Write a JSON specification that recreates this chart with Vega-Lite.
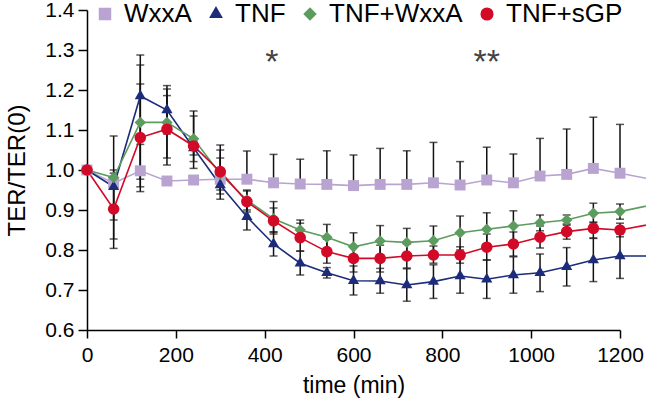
{
  "$schema": "https://vega.github.io/schema/vega-lite/v6.json",
  "width": 533,
  "height": 320,
  "autosize": {"type": "none"},
  "padding": {"left": 87, "top": 10, "right": 26, "bottom": 81},
  "background": "white",
  "config": {
    "view": {"stroke": null},
    "font": "Liberation Sans",
    "axis": {"labelFont": "Liberation Sans", "titleFont": "Liberation Sans", "labelColor": "black", "titleColor": "black", "domainColor": "black", "tickColor": "black", "domainWidth": 1.5, "tickWidth": 1.5, "grid": false, "titleFontWeight": "normal", "labelOverlap": false},
    "legend": {"labelFontSize": 26, "labelFont": "Liberation Sans"}
  },
  "datasets": {
    "ter": [
      {"s": "WxxA", "t": 0, "v": 1.0},
      {"s": "WxxA", "t": 60, "v": 0.967},
      {"s": "WxxA", "t": 120, "v": 0.998, "lo": 0.958, "hi": 1.064},
      {"s": "WxxA", "t": 180, "v": 0.9725},
      {"s": "WxxA", "t": 240, "v": 0.975},
      {"s": "WxxA", "t": 300, "v": 0.977, "lo": 0.977, "hi": 1.0625},
      {"s": "WxxA", "t": 360, "v": 0.977, "lo": 0.977, "hi": 1.0475},
      {"s": "WxxA", "t": 420, "v": 0.968, "lo": 0.968, "hi": 1.039},
      {"s": "WxxA", "t": 480, "v": 0.965, "lo": 0.965, "hi": 1.027},
      {"s": "WxxA", "t": 540, "v": 0.964, "lo": 0.964, "hi": 1.048},
      {"s": "WxxA", "t": 600, "v": 0.961, "lo": 0.961, "hi": 1.0375},
      {"s": "WxxA", "t": 660, "v": 0.964, "lo": 0.964, "hi": 1.054},
      {"s": "WxxA", "t": 720, "v": 0.964, "lo": 0.964, "hi": 1.048},
      {"s": "WxxA", "t": 780, "v": 0.968, "lo": 0.968, "hi": 1.069},
      {"s": "WxxA", "t": 840, "v": 0.9625, "lo": 0.9625, "hi": 1.021},
      {"s": "WxxA", "t": 900, "v": 0.975, "lo": 0.975, "hi": 1.057},
      {"s": "WxxA", "t": 960, "v": 0.968, "lo": 0.968, "hi": 1.04},
      {"s": "WxxA", "t": 1020, "v": 0.985, "lo": 0.985, "hi": 1.079},
      {"s": "WxxA", "t": 1080, "v": 0.989, "lo": 0.989, "hi": 1.1025},
      {"s": "WxxA", "t": 1140, "v": 1.004, "lo": 1.004, "hi": 1.132},
      {"s": "WxxA", "t": 1200, "v": 0.992, "lo": 0.992, "hi": 1.114},
      {"s": "WxxA", "t": 1320, "v": 0.966},
      {"s": "TNF", "t": 0, "v": 1.0},
      {"s": "TNF", "t": 60, "v": 0.958, "lo": 0.8275, "hi": 1.085},
      {"s": "TNF", "t": 120, "v": 1.185, "lo": 1.083, "hi": 1.2875},
      {"s": "TNF", "t": 180, "v": 1.15, "lo": 1.09, "hi": 1.211},
      {"s": "TNF", "t": 240, "v": 1.055, "lo": 1.0375, "hi": 1.072},
      {"s": "TNF", "t": 300, "v": 0.9625, "lo": 0.927, "hi": 0.998},
      {"s": "TNF", "t": 360, "v": 0.883, "lo": 0.85, "hi": 0.915},
      {"s": "TNF", "t": 420, "v": 0.815, "lo": 0.785, "hi": 0.845},
      {"s": "TNF", "t": 480, "v": 0.767, "lo": 0.7375, "hi": 0.797},
      {"s": "TNF", "t": 540, "v": 0.743, "lo": 0.73, "hi": 0.756},
      {"s": "TNF", "t": 600, "v": 0.723, "lo": 0.6875, "hi": 0.76},
      {"s": "TNF", "t": 660, "v": 0.7225, "lo": 0.692, "hi": 0.754},
      {"s": "TNF", "t": 720, "v": 0.7125, "lo": 0.672, "hi": 0.753},
      {"s": "TNF", "t": 780, "v": 0.721, "lo": 0.679, "hi": 0.763},
      {"s": "TNF", "t": 840, "v": 0.735, "lo": 0.692, "hi": 0.778},
      {"s": "TNF", "t": 900, "v": 0.727, "lo": 0.679, "hi": 0.775},
      {"s": "TNF", "t": 960, "v": 0.7375, "lo": 0.692, "hi": 0.783},
      {"s": "TNF", "t": 1020, "v": 0.743, "lo": 0.696, "hi": 0.79},
      {"s": "TNF", "t": 1080, "v": 0.758, "lo": 0.71, "hi": 0.806},
      {"s": "TNF", "t": 1140, "v": 0.775, "lo": 0.721, "hi": 0.829},
      {"s": "TNF", "t": 1200, "v": 0.785, "lo": 0.729, "hi": 0.84},
      {"s": "TNF", "t": 1320, "v": 0.785},
      {"s": "TNF+WxxA", "t": 0, "v": 1.0},
      {"s": "TNF+WxxA", "t": 60, "v": 0.981, "lo": 0.875, "hi": 0.992},
      {"s": "TNF+WxxA", "t": 120, "v": 1.119, "lo": 0.977, "hi": 1.2625},
      {"s": "TNF+WxxA", "t": 180, "v": 1.119, "lo": 1.03, "hi": 1.2025},
      {"s": "TNF+WxxA", "t": 240, "v": 1.078, "lo": 1.021, "hi": 1.1475},
      {"s": "TNF+WxxA", "t": 300, "v": 0.99, "lo": 0.95, "hi": 1.03},
      {"s": "TNF+WxxA", "t": 360, "v": 0.925, "lo": 0.9, "hi": 0.95},
      {"s": "TNF+WxxA", "t": 420, "v": 0.878, "lo": 0.845, "hi": 0.921},
      {"s": "TNF+WxxA", "t": 480, "v": 0.85, "lo": 0.825, "hi": 0.875},
      {"s": "TNF+WxxA", "t": 540, "v": 0.832, "lo": 0.8, "hi": 0.864},
      {"s": "TNF+WxxA", "t": 600, "v": 0.808, "lo": 0.775, "hi": 0.843},
      {"s": "TNF+WxxA", "t": 660, "v": 0.8225, "lo": 0.785, "hi": 0.861},
      {"s": "TNF+WxxA", "t": 720, "v": 0.819, "lo": 0.785, "hi": 0.854},
      {"s": "TNF+WxxA", "t": 780, "v": 0.823, "lo": 0.787, "hi": 0.86},
      {"s": "TNF+WxxA", "t": 840, "v": 0.843, "lo": 0.8, "hi": 0.885},
      {"s": "TNF+WxxA", "t": 900, "v": 0.852, "lo": 0.81, "hi": 0.893},
      {"s": "TNF+WxxA", "t": 960, "v": 0.86, "lo": 0.822, "hi": 0.898},
      {"s": "TNF+WxxA", "t": 1020, "v": 0.868, "lo": 0.848, "hi": 0.8875},
      {"s": "TNF+WxxA", "t": 1080, "v": 0.875, "lo": 0.862, "hi": 0.8875},
      {"s": "TNF+WxxA", "t": 1140, "v": 0.892, "lo": 0.868, "hi": 0.917},
      {"s": "TNF+WxxA", "t": 1200, "v": 0.896, "lo": 0.877, "hi": 0.915},
      {"s": "TNF+WxxA", "t": 1320, "v": 0.924},
      {"s": "TNF+sGP", "t": 0, "v": 1.0},
      {"s": "TNF+sGP", "t": 60, "v": 0.9025, "lo": 0.804, "hi": 1.0},
      {"s": "TNF+sGP", "t": 120, "v": 1.081, "lo": 0.946, "hi": 1.215},
      {"s": "TNF+sGP", "t": 180, "v": 1.102, "lo": 1.0125, "hi": 1.186},
      {"s": "TNF+sGP", "t": 240, "v": 1.06, "lo": 1.004, "hi": 1.135},
      {"s": "TNF+sGP", "t": 300, "v": 0.996, "lo": 0.94, "hi": 1.05},
      {"s": "TNF+sGP", "t": 360, "v": 0.921, "lo": 0.895, "hi": 0.9475},
      {"s": "TNF+sGP", "t": 420, "v": 0.873, "lo": 0.84, "hi": 0.905},
      {"s": "TNF+sGP", "t": 480, "v": 0.831, "lo": 0.7975, "hi": 0.867},
      {"s": "TNF+sGP", "t": 540, "v": 0.796, "lo": 0.767, "hi": 0.827},
      {"s": "TNF+sGP", "t": 600, "v": 0.779, "lo": 0.745, "hi": 0.81},
      {"s": "TNF+sGP", "t": 660, "v": 0.779, "lo": 0.745, "hi": 0.812},
      {"s": "TNF+sGP", "t": 720, "v": 0.785, "lo": 0.755, "hi": 0.815},
      {"s": "TNF+sGP", "t": 780, "v": 0.7875, "lo": 0.767, "hi": 0.81},
      {"s": "TNF+sGP", "t": 840, "v": 0.7875, "lo": 0.767, "hi": 0.808},
      {"s": "TNF+sGP", "t": 900, "v": 0.807, "lo": 0.775, "hi": 0.84},
      {"s": "TNF+sGP", "t": 960, "v": 0.815, "lo": 0.785, "hi": 0.845},
      {"s": "TNF+sGP", "t": 1020, "v": 0.832, "lo": 0.805, "hi": 0.86},
      {"s": "TNF+sGP", "t": 1080, "v": 0.846, "lo": 0.827, "hi": 0.865},
      {"s": "TNF+sGP", "t": 1140, "v": 0.854, "lo": 0.83, "hi": 0.87},
      {"s": "TNF+sGP", "t": 1200, "v": 0.85, "lo": 0.833, "hi": 0.867},
      {"s": "TNF+sGP", "t": 1320, "v": 0.875}
    ],
    "stars": [
      {"t": 416, "v": 1.243, "label": "*"},
      {"t": 900, "v": 1.243, "label": "**"}
    ]
  },
  "layer": [
    {
      "data": {"name": "ter"},
      "transform": [{"filter": "isValid(datum.lo)"}],
      "mark": {"type": "errorbar", "ticks": true, "color": "#111111", "thickness": 1.5, "size": 8},
      "encoding": {
        "x": {"field": "t", "type": "quantitative", "scale": {"domain": [0, 1200], "nice": false, "zero": false},
          "axis": {"title": "time (min)", "values": [0, 200, 400, 600, 800, 1000, 1200], "format": "d", "tickSize": 8, "labelFontSize": 21, "labelPadding": 6, "titleFontSize": 23, "titleY": 62, "titleBaseline": "alphabetic", "labelFlush": false, "labelOverlap": false}},
        "y": {"field": "lo", "type": "quantitative", "scale": {"domain": [0.6, 1.4], "nice": false, "zero": false},
          "axis": {"title": "TER/TER(0)", "tickCount": 8, "format": ".1f", "tickSize": 9, "labelFontSize": 21, "labelPadding": 4, "titleFontSize": 24, "titleX": -63, "titleY": 160, "titleAngle": 270, "titleBaseline": "alphabetic", "titleAlign": "center", "labelFlush": false, "labelOverlap": false}},
        "y2": {"field": "hi"}
      }
    },
    {
      "data": {"name": "ter"},
      "mark": {"type": "line", "strokeWidth": 1.6},
      "encoding": {
        "x": {"field": "t", "type": "quantitative", "scale": {"domain": [0, 1200], "nice": false, "zero": false},
          "axis": {"title": "time (min)", "values": [0, 200, 400, 600, 800, 1000, 1200], "format": "d", "tickSize": 8, "labelFontSize": 21, "labelPadding": 6, "titleFontSize": 23, "titleY": 62, "titleBaseline": "alphabetic", "labelFlush": false, "labelOverlap": false}},
        "y": {"field": "v", "type": "quantitative", "scale": {"domain": [0.6, 1.4], "nice": false, "zero": false},
          "axis": {"title": "TER/TER(0)", "tickCount": 8, "format": ".1f", "tickSize": 9, "labelFontSize": 21, "labelPadding": 4, "titleFontSize": 24, "titleX": -63, "titleY": 160, "titleAngle": 270, "titleBaseline": "alphabetic", "titleAlign": "center", "labelFlush": false, "labelOverlap": false}},
        "color": {"field": "s", "type": "nominal", "scale": {"domain": ["WxxA", "TNF", "TNF+WxxA", "TNF+sGP"], "range": ["#b9a4d1", "#1c2b7a", "#5c9c5e", "#d20a28"]},
          "legend": {"title": null, "orient": "none", "legendX": 5, "legendY": -9, "direction": "horizontal", "columns": 4, "columnPadding": 11, "labelOffset": 6, "padding": 0, "rowPadding": 0, "symbolSize": 900, "labelFontSize": 26, "labelFont": "Liberation Sans", "labelColor": "black", "labelLimit": 300, "symbolStrokeWidth": 1.5,
            "encode": {
              "labels": {"update": {"fontSize": {"value": 26}}},
              "symbols": {"update": {
              "shape": {"signal": "datum.value === 'WxxA' ? 'M-1,0H1M-0.36,-0.36H0.36V0.36H-0.36Z' : datum.value === 'TNF' ? 'M-1,0H1M0,-0.4L0.47,0.4H-0.47Z' : datum.value === 'TNF+WxxA' ? 'M-1,0H1M0,-0.34L0.34,0L0,0.34L-0.34,0Z' : 'M-1,0H1M0.34,0A0.34,0.34,0,1,1,-0.34,0A0.34,0.34,0,1,1,0.34,0Z'"},
              "stroke": {"signal": "scale('color', datum.value)"},
              "fill": {"signal": "scale('color', datum.value)"},
              "strokeWidth": {"value": 1.5},
              "size": {"value": 900},
              "opacity": {"value": 1}
            }}}}}
      }
    },
    {
      "data": {"name": "ter"},
      "mark": {"type": "point", "filled": true, "opacity": 1, "strokeWidth": 0},
      "encoding": {
        "x": {"field": "t", "type": "quantitative", "scale": {"domain": [0, 1200], "nice": false, "zero": false},
          "axis": {"title": "time (min)", "values": [0, 200, 400, 600, 800, 1000, 1200], "format": "d", "tickSize": 8, "labelFontSize": 21, "labelPadding": 6, "titleFontSize": 23, "titleY": 62, "titleBaseline": "alphabetic", "labelFlush": false, "labelOverlap": false}},
        "y": {"field": "v", "type": "quantitative", "scale": {"domain": [0.6, 1.4], "nice": false, "zero": false},
          "axis": {"title": "TER/TER(0)", "tickCount": 8, "format": ".1f", "tickSize": 9, "labelFontSize": 21, "labelPadding": 4, "titleFontSize": 24, "titleX": -63, "titleY": 160, "titleAngle": 270, "titleBaseline": "alphabetic", "titleAlign": "center", "labelFlush": false, "labelOverlap": false}},
        "color": {"field": "s", "type": "nominal", "scale": {"domain": ["WxxA", "TNF", "TNF+WxxA", "TNF+sGP"], "range": ["#b9a4d1", "#1c2b7a", "#5c9c5e", "#d20a28"]}},
        "shape": {"field": "s", "type": "nominal", "scale": {"domain": ["WxxA", "TNF", "TNF+WxxA", "TNF+sGP"], "range": ["square", "M0,-1.155L1,0.577L-1,0.577Z", "diamond", "circle"]}, "legend": null},
        "size": {"field": "s", "type": "nominal", "scale": {"domain": ["WxxA", "TNF", "TNF+WxxA", "TNF+sGP"], "range": [120, 135, 105, 105]}, "legend": null}
      }
    },
    {
      "data": {"name": "stars"},
      "mark": {"type": "text", "fontSize": 34, "font": "Liberation Sans", "color": "#444444", "baseline": "alphabetic", "align": "center"},
      "encoding": {
        "x": {"field": "t", "type": "quantitative"},
        "y": {"field": "v", "type": "quantitative"},
        "text": {"field": "label"}
      }
    }
  ]
}
